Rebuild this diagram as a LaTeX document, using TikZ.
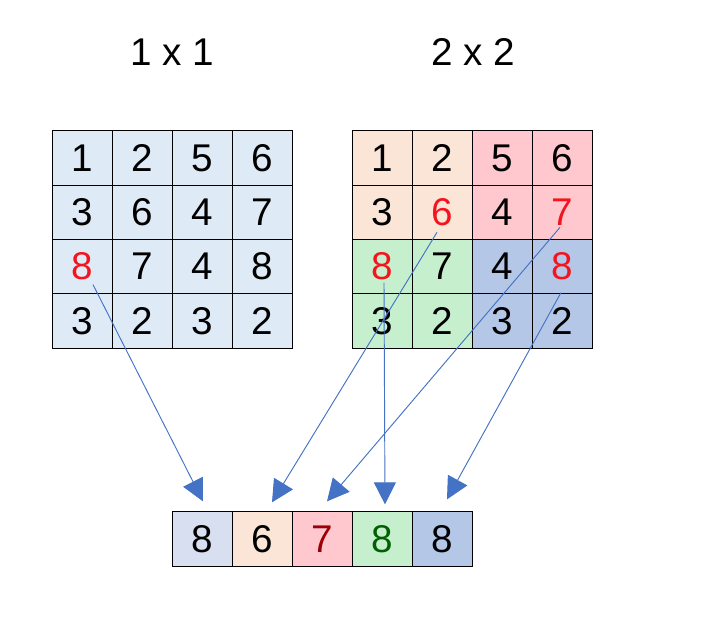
\documentclass[tikz,border=0pt]{standalone}
\usepackage{fontspec}
\setmainfont{Liberation Sans}
\usetikzlibrary{
    arrows.meta,
    calc
}
\definecolor{rellenoAzul}{RGB}{222, 235, 247}
\definecolor{rellenoMelocoton}{RGB}{251, 229, 214}
\definecolor{rellenoRosa}{RGB}{255, 199, 206}
\definecolor{rellenoVerde}{RGB}{198, 239, 206}
\definecolor{rellenoAzulOscuro}{RGB}{180, 199, 231}
\definecolor{rellenoLavanda}{RGB}{216, 223, 241}
\definecolor{tintaRoja}{RGB}{245, 20, 30}
\definecolor{tintaGranate}{RGB}{156, 0, 6}
\definecolor{tintaVerde}{RGB}{0, 97, 0}
\definecolor{colorFlecha}{RGB}{68, 114, 196}
\tikzset{
    celda/.style={
        rectangle, draw=black, line width=0.8pt,
        minimum width=1.8cm, minimum height=1.63cm,
        inner sep=0pt, align=center,
        font=\fontsize{33}{36}\selectfont
    },
    titulo/.style={
        font=\fontsize{33}{36}\selectfont, inner sep=0pt
    },
    flechaAzul/.style={
        -{Triangle[length=0.66cm,width=0.66cm]},
        line width=0.8pt, color=colorFlecha
    },
}
\begin{document}
\begin{tikzpicture}[x=0.03cm, y=-0.03cm]

    \useasboundingbox (0,0) rectangle (716,626);

    % ----------------------------------------------------------
    % TITULOS
    % ----------------------------------------------------------
    \node[titulo] at (172, 52) (tituloUno) {1 x 1};
    \node[titulo] at (473, 52) (tituloDos) {2 x 2};

    % ----------------------------------------------------------
    % MALLA IZQUIERDA (1 x 1) — celdas izq<fila><col>
    % ----------------------------------------------------------
    \foreach \val/\tinta [count=\i from 0] in
        {1/black, 2/black, 5/black, 6/black,
         3/black, 6/black, 4/black, 7/black,
         8/tintaRoja, 7/black, 4/black, 8/black,
         3/black, 2/black, 3/black, 2/black} {
        \pgfmathtruncatemacro\fila{\i/4}
        \pgfmathtruncatemacro\col{mod(\i,4)}
        \node[celda, fill=rellenoAzul, text=\tinta]
            at (82+60*\col, 158.1+54.25*\fila) (izq\fila\col) {\val};
    }

    % ----------------------------------------------------------
    % MALLA DERECHA (2 x 2) — celdas der<fila><col>
    % ----------------------------------------------------------
    \foreach \val/\tinta/\relleno [count=\i from 0] in
        {1/black/rellenoMelocoton, 2/black/rellenoMelocoton,
         5/black/rellenoRosa, 6/black/rellenoRosa,
         3/black/rellenoMelocoton, 6/tintaRoja/rellenoMelocoton,
         4/black/rellenoRosa, 7/tintaRoja/rellenoRosa,
         8/tintaRoja/rellenoVerde, 7/black/rellenoVerde,
         4/black/rellenoAzulOscuro, 8/tintaRoja/rellenoAzulOscuro,
         3/black/rellenoVerde, 2/black/rellenoVerde,
         3/black/rellenoAzulOscuro, 2/black/rellenoAzulOscuro} {
        \pgfmathtruncatemacro\fila{\i/4}
        \pgfmathtruncatemacro\col{mod(\i,4)}
        \node[celda, fill=\relleno, text=\tinta]
            at (382+60*\col, 158.1+54.25*\fila) (der\fila\col) {\val};
    }

    % ----------------------------------------------------------
    % FILA RESULTADO — celdas res1 ... res5
    % ----------------------------------------------------------
    \node[celda, fill=rellenoLavanda]                      at (202, 539) (res1) {8};
    \node[celda, fill=rellenoMelocoton]                    at (262, 539) (res2) {6};
    \node[celda, fill=rellenoRosa, text=tintaGranate]      at (322, 539) (res3) {7};
    \node[celda, fill=rellenoVerde, text=tintaVerde]       at (382, 539) (res4) {8};
    \node[celda, fill=rellenoAzulOscuro]                   at (442, 539) (res5) {8};

    % puntas de flecha sobre la fila resultado
    \coordinate (punta1) at ($(res1.north) + (1, -10)$);
    \coordinate (punta2) at ($(res2.north) + (10, -9)$);
    \coordinate (punta3) at ($(res3.north) + (5, -10)$);
    \coordinate (punta4) at ($(res4.north) + (3, -7)$);
    \coordinate (punta5) at ($(res5.north) + (5, -12)$);

    % ----------------------------------------------------------
    % FLECHAS
    % ----------------------------------------------------------
    \draw[flechaAzul] ($(izq20.center) + (11, 18)$) -- (punta1);
    \draw[flechaAzul] ($(der11.center) + (-5, 20)$) -- (punta2);
    \draw[flechaAzul] ($(der13.center) + (-2, 15)$) -- (punta3);
    \draw[flechaAzul] ($(der20.center) + (2, 16)$)  -- (punta4);
    \draw[flechaAzul] ($(der23.center) + (-1, 26)$) -- (punta5);

\end{tikzpicture}
\end{document}
